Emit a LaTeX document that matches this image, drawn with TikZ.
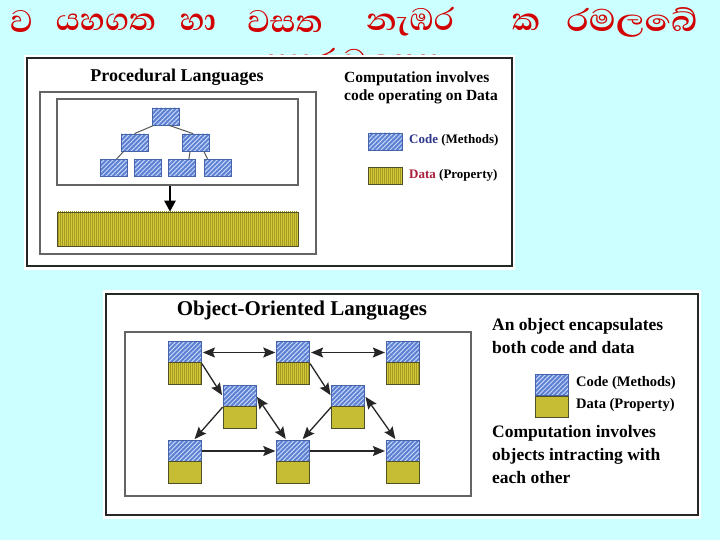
\documentclass[tikz,border=0pt]{standalone}
\usepackage{fontspec}
\setmainfont{Liberation Serif}
\newfontfamily\sinhalafont[Script=Sinhala]{Abhaya Libre}
\usetikzlibrary{arrows.meta,patterns.meta}
\definecolor{bgcyan}{RGB}{204,255,255}
\definecolor{titlered}{RGB}{210,0,0}
\definecolor{codefill}{RGB}{92,128,210}
\definecolor{codestripe}{RGB}{200,215,250}
\definecolor{codeborder}{RGB}{70,100,170}
\definecolor{datafill}{RGB}{210,200,58}
\definecolor{datastripe}{RGB}{165,155,35}
\definecolor{databorder}{RGB}{80,80,40}
\definecolor{codetext}{RGB}{45,55,140}
\definecolor{datatext}{RGB}{170,30,60}
\definecolor{boxgray}{RGB}{100,100,100}
\begin{document}
\begin{tikzpicture}[x=1pt,y=-1pt,
  sin/.style={font=\sinhalafont\bfseries\fontsize{40}{44}\selectfont, text=titlered, inner sep=0},
  heading/.style={font=\bfseries\fontsize{#1}{#1}\selectfont, inner sep=0},
  desc/.style={font=\bfseries\fontsize{#1}{#1}\selectfont, anchor=west, inner sep=0, text height=0.7em, text depth=0.2em},
  frame/.style={draw=black!85, line width=2pt},
  graybox/.style={draw=boxgray, line width=2pt},
  codebox/.style={draw=codeborder, line width=0.8pt, inner sep=0, minimum width=#1, preaction={fill=codefill}, pattern={Lines[angle=45,distance=3.2pt,line width=1pt]}, pattern color=codestripe},
  datalines/.style={draw=databorder, line width=0.8pt, inner sep=0, preaction={fill=datafill}, pattern={Lines[angle=90,distance=2pt,line width=0.6pt]}, pattern color=datastripe},
  datadots/.style={draw=databorder, line width=0.8pt, inner sep=0, preaction={fill=datafill}, pattern={Dots[distance=2pt,radius=0.55pt]}, pattern color=datastripe},
  tcode/.style={codebox=27pt, minimum height=17pt},
  ocode/.style={codebox=33pt, minimum height=21.5pt},
  odata/.style={datadots, minimum width=33pt, minimum height=21.5pt},
  odatal/.style={datalines, minimum width=33pt, minimum height=21.5pt},
  treeline/.style={draw=black!65, line width=1pt},
  oarrow/.style={draw=black!85, line width=1.3pt, shorten <=1pt, shorten >=1pt, arrows={Stealth[length=12pt,width=10pt,inset=2pt]-Stealth[length=12pt,width=10pt,inset=2pt]}},
  oarrowone/.style={draw=black!85, line width=1.3pt, shorten >=1pt, arrows={-Stealth[length=12pt,width=10pt,inset=2pt]}}
]
\useasboundingbox (0,0) rectangle (720,540);
\fill[bgcyan] (0,0) rectangle (720,540);

% Title (Sinhala)
\node[sin] (w1) at (21.5,22) {ව};
\node[sin] (w2) at (106,22) {යහගත};
\node[sin] (w3) at (198,22) {හා};
\node[sin] (w4) at (285,22) {වසත};
\node[sin] (w5) at (410,22) {නැඹර};
\node[sin] (w6) at (526,22) {ක};
\node[sin, xscale=1.12] (w7) at (632,22) {රමලබේ};
\begin{scope}
\clip (0,0) rectangle (720,56);
\node[sin] (w8) at (353,63) {සහර ඩලපස};
\end{scope}

% ---------- Procedural picture ----------
\fill[white] (24,55) rectangle (515,270);
\draw[frame] (27,58) rectangle (512,266);
\node[heading=18] (ptitle) at (177,77) {Procedural Languages};
\draw[graybox] (40,92) rectangle (316,254);
\node[draw=boxgray, line width=1.8pt, fill=white, minimum width=241pt, minimum height=86pt, inner sep=0] (codearea) at (177.5,142) {};
\node[tcode] (t) at (165.5,116.5) {};
\node[tcode] (l) at (134.5,142.5) {};
\node[tcode] (r) at (196,142.5) {};
\node[tcode] (b1) at (113.5,168) {};
\node[tcode] (b2) at (147.5,168) {};
\node[tcode] (b3) at (182,168) {};
\node[tcode] (b4) at (217.5,168) {};
\draw[treeline] ([xshift=2pt]t.south west) -- (l.north);
\draw[treeline] ([xshift=4pt]t.south) -- ([xshift=-3pt]r.north);
\draw[treeline] ([xshift=3pt]l.south west) -- ([xshift=3pt]b1.north);
\draw[treeline] ([xshift=8pt]r.south west) -- ([xshift=-7pt]b3.north east);
\draw[treeline] ([xshift=-6pt]r.south east) -- ([xshift=4pt]b4.north west);
\node[datalines, minimum width=241pt, minimum height=34pt] (bar) at (177.5,229) {};
\draw[line width=2.5pt, arrows={-Triangle[length=11pt,width=11pt]}] ([xshift=-7.5pt]codearea.south) -- ([xshift=-7.5pt]bar.north);

\node[desc=15.5] (pd1) at (344,80) {Computation involves};
\node[desc=15.5] (pd2) at (344,98) {code operating on Data};
\node[tcode, minimum width=34pt] (pcl) at (385,141.5) {};
\node[datalines, minimum width=34pt, minimum height=17pt] (pdl) at (385,176) {};
\node[desc=13] (pcode) at (409,141) {\textcolor{codetext}{Code} (Methods)};
\node[desc=13] (pdata) at (409,176) {\textcolor{datatext}{Data} (Property)};

% ---------- Object-oriented picture ----------
\fill[white] (103,290) rectangle (701,519);
\draw[frame] (106,294) rectangle (698,515);
\node[heading=21] (otitle) at (302,311) {Object-Oriented Languages};
\draw[graybox] (125,332) rectangle (471,496);

\node[ocode] (o1c) at (185,352.5) {};
\node[odatal] (o1d) at (185,373.5) {};
\node[ocode] (o2c) at (293.2,352.5) {};
\node[odatal] (o2d) at (293.2,373.5) {};
\node[ocode] (o3c) at (402.8,352.5) {};
\node[odatal] (o3d) at (402.8,373.5) {};
\node[ocode] (m1c) at (239.5,396) {};
\node[odata] (m1d) at (239.5,417.5) {};
\node[ocode] (m2c) at (348,396) {};
\node[odata] (m2d) at (348,417.5) {};
\node[ocode] (b1c) at (185,451) {};
\node[odata] (b1d) at (185,472.5) {};
\node[ocode] (b2c) at (293.2,451) {};
\node[odata] (b2d) at (293.2,472.5) {};
\node[ocode] (b3c) at (402.8,451) {};
\node[odata] (b3d) at (402.8,472.5) {};

\draw[oarrow] (o1c) -- (o2c);
\draw[oarrow] (o2c) -- (o3c);
\draw[oarrowone] (o1c.south east) -- (m1c.west);
\draw[oarrowone] (o2c.south east) -- (m2c.west);
\draw[oarrowone] (m1c.south west) -- ([xshift=-8pt]b1c.north east);
\draw[oarrowone] (m2c.south west) -- ([xshift=-8pt]b2c.north east);
\draw[oarrow] (m1c.east) -- ([xshift=10pt]b2c.north west);
\draw[oarrow] (m2c.east) -- ([xshift=10pt]b3c.north west);
\draw[oarrowone] (b1c) -- (b2c);
\draw[oarrowone] (b2c) -- (b3c);

\node[desc=17.5] (od1) at (492,328) {An object encapsulates};
\node[desc=17.5] (od2) at (492,351) {both code and data};
\node[ocode] (lc) at (551.5,385) {};
\node[odata] (ld) at (551.5,407) {};
\node[desc=14.5] (lcode) at (576,384) {Code (Methods)};
\node[desc=14.5] (ldata) at (576,406) {Data (Property)};
\node[desc=17.5] (od3) at (492,435) {Computation involves};
\node[desc=17.5] (od4) at (492,458) {objects intracting with};
\node[desc=17.5] (od5) at (492,481) {each other};
\end{tikzpicture}
\end{document}
